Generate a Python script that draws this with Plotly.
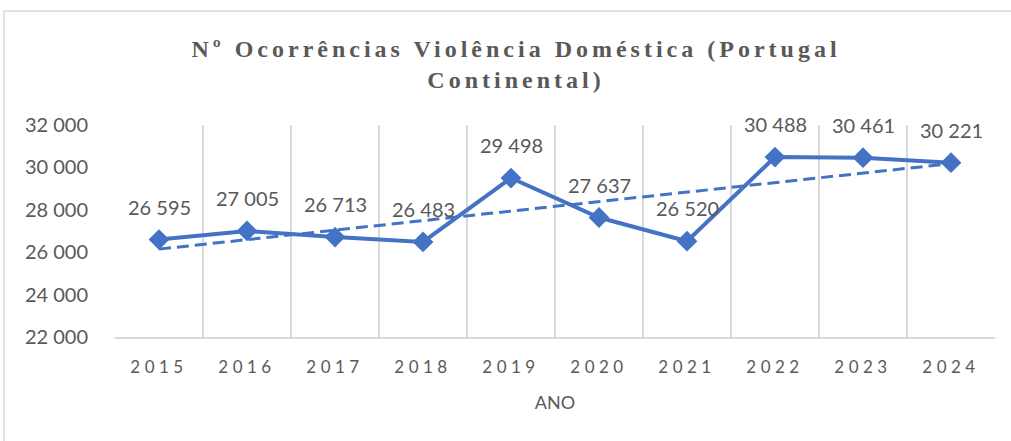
import numpy as np
import plotly.graph_objects as go

years = ["2015", "2016", "2017", "2018", "2019", "2020", "2021", "2022", "2023", "2024"]
values = [26595, 27005, 26713, 26483, 29498, 27637, 26520, 30488, 30461, 30221]
y_ticks = [22000, 24000, 26000, 28000, 30000, 32000]

BLUE = "#4472C4"
GRAY = "#595959"
SANS = "Lato, Open Sans, sans-serif"

xi = list(range(len(years)))
slope, intercept = np.polyfit(xi, values, 1)
trend = [float(slope * i + intercept) for i in xi]

fig = go.Figure()
fig.add_trace(go.Scatter(
    x=xi, y=trend, mode="lines",
    line=dict(color=BLUE, width=3, dash="12px,6px"),
    hoverinfo="skip", showlegend=False))
fig.add_trace(go.Scatter(
    x=xi, y=values, mode="lines+markers",
    line=dict(color=BLUE, width=4),
    marker=dict(symbol="diamond", size=16, color=BLUE),
    showlegend=False))

for i, v in zip(xi, values):
    fig.add_annotation(x=i, y=v, text=f"{v:,}".replace(",", " "),
                       showarrow=False, yshift=33,
                       font=dict(family=SANS, size=20, color=GRAY))

fig.add_shape(type="rect", xref="paper", yref="paper",
              x0=(4 - 115) / 880, x1=(1030 - 115) / 880,
              y0=1 - (460 - 125) / 212, y1=1 + (125 - 11) / 212,
              line=dict(color="#d9d9d9", width=1.5), fillcolor="rgba(0,0,0,0)", layer="below")

boundaries = [i - 0.5 for i in range(len(years) + 1)]

fig.update_layout(
    width=1011, height=441,
    margin=dict(l=115, r=16, t=125, b=104),
    paper_bgcolor="white", plot_bgcolor="white",
    separators=", ",
    title=dict(text="Nº Ocorrências Violência Doméstica (Portugal<br>Continental)",
               x=516 / 1011, xref="container", xanchor="center", y=(441 - 57) / 441, yanchor="middle",
               font=dict(family="Liberation Serif, serif", size=24, color=GRAY, weight="bold")),
    xaxis=dict(range=[-0.5, len(years) - 0.5], tickvals=xi, ticktext=years,
               showgrid=False, zeroline=False,
               minor=dict(tickvals=boundaries, showgrid=True, gridcolor="#d9d9d9", gridwidth=1.5, ticks=""),
               showline=True, linecolor="#d9d9d9", linewidth=1.5,
               ticks="", ticklabelstandoff=14, tickangle=0,
               tickfont=dict(family=SANS, size=17, color=GRAY),
               title=dict(text="ANO", standoff=20,
                          font=dict(family=SANS, size=18, color=GRAY))),
    yaxis=dict(range=[22000, 32000], tickvals=y_ticks, tickformat=",d", showgrid=False,
               zeroline=False, showline=False, ticks="", ticklabelstandoff=26,
               tickfont=dict(family=SANS, size=20, color=GRAY)),
)

post = """
document.body.style.margin='0';
var s=document.createElement('style');
s.innerHTML='.gtitle{letter-spacing:4px;} .xtick text{letter-spacing:4.5px;} .modebar-container{display:none !important;}';
document.head.appendChild(s);
"""
fig.write_html("out.html", post_script=post, config={"displayModeBar": False})
